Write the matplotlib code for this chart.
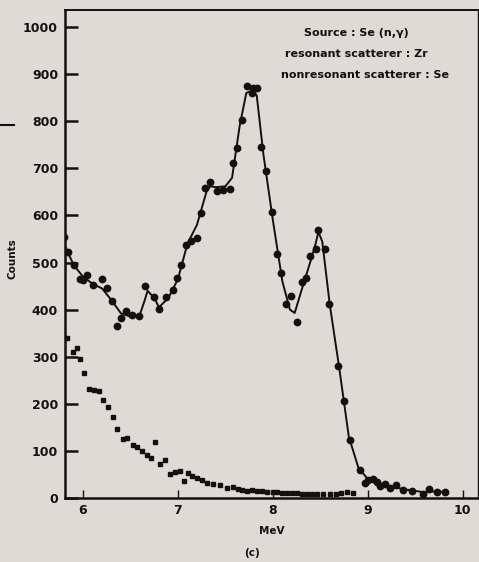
import numpy as np
import matplotlib
matplotlib.use("Agg")
import matplotlib.pyplot as plt
from matplotlib.lines import Line2D

# resonant scatterer Zr (dots)
res_e = [5.80, 5.84, 5.91, 5.97, 6.00, 6.04, 6.11, 6.20, 6.25, 6.31, 6.36, 6.40, 6.45, 6.52,
         6.59, 6.65, 6.75, 6.80, 6.87, 6.95, 6.99, 7.03, 7.09, 7.14, 7.20, 7.24, 7.29, 7.34,
         7.41, 7.47, 7.55, 7.58, 7.62, 7.67, 7.73, 7.78, 7.79, 7.83, 7.88, 7.93, 7.99, 8.04,
         8.09, 8.14, 8.19, 8.25, 8.31, 8.35, 8.39, 8.45, 8.48, 8.55, 8.59, 8.69, 8.75, 8.81,
         8.92, 8.97, 9.00, 9.05, 9.10, 9.13, 9.18, 9.23, 9.30, 9.37, 9.47, 9.58, 9.65, 9.73, 9.81]
res_counts = [554, 522, 495, 465, 463, 473, 452, 465, 446, 418, 365, 382, 397, 389,
              386, 450, 427, 401, 427, 442, 467, 495, 537, 545, 552, 605, 658, 671,
              652, 655, 656, 711, 743, 803, 875, 860, 870, 870, 745, 694, 607, 518,
              478, 412, 429, 374, 459, 467, 514, 529, 569, 529, 412, 280, 205, 123,
              59, 32, 38, 40, 33, 26, 30, 21, 28, 17, 15, 8, 19, 13, 13]

# smooth curve drawn through the dots
fit_e = [5.80, 5.90, 6.00, 6.10, 6.20, 6.30, 6.40, 6.50, 6.60, 6.65, 6.68, 6.75, 6.80, 6.90,
         7.00, 7.10, 7.20, 7.30, 7.34, 7.40, 7.50, 7.57, 7.65, 7.72, 7.78, 7.83, 7.90, 8.00,
         8.10, 8.18, 8.23, 8.30, 8.40, 8.45, 8.48, 8.52, 8.60, 8.70, 8.80, 8.90, 9.00, 9.10,
         9.20, 9.30, 9.40, 9.50, 9.60, 9.70, 9.80]
fit_counts = [540, 495, 470, 455, 445, 420, 392, 385, 390, 420, 440, 425, 405, 425,
              465, 540, 580, 650, 662, 660, 662, 680, 790, 860, 865, 855, 730, 590,
              460, 400, 393, 440, 505, 540, 565, 545, 410, 275, 130, 65, 40, 30,
              25, 22, 18, 15, 12, 14, 13]

# nonresonant scatterer Se (squares)
non_e = [5.83, 5.89, 5.94, 5.97, 6.01, 6.06, 6.12, 6.17, 6.21, 6.26, 6.32, 6.36, 6.42, 6.46,
         6.53, 6.57, 6.62, 6.67, 6.72, 6.76, 6.81, 6.86, 6.92, 6.97, 7.02, 7.06, 7.11, 7.15,
         7.20, 7.25, 7.31, 7.37, 7.44, 7.52, 7.58, 7.63, 7.68, 7.73, 7.78, 7.83, 7.89, 7.94,
         8.00, 8.04, 8.10, 8.15, 8.20, 8.25, 8.31, 8.36, 8.41, 8.46, 8.53, 8.60, 8.66, 8.72, 8.78, 8.84]
non_counts = [340, 310, 318, 295, 265, 231, 229, 227, 208, 193, 172, 146, 125, 127,
              113, 108, 100, 91, 85, 119, 72, 81, 51, 55, 57, 36, 53, 47,
              42, 38, 32, 30, 28, 21, 23, 19, 17, 15, 17, 15, 14, 13,
              13, 12, 11, 11, 10, 11, 9, 8, 9, 8, 8, 8, 9, 10, 12, 10]

xticks = [6, 7, 8, 9, 10]
xlabels = ["6", "7", "8", "9", "10"]
yticks = [0, 100, 200, 300, 400, 500, 600, 700, 800, 900, 1000]

bg = "#dcdbd6"
ink = "#141010"

fig = plt.figure(figsize=(4.79, 5.62), dpi=100, facecolor=bg)
ax = fig.add_axes([0.1357, 0.1139, 0.862, 0.868], facecolor=bg)

ax.plot(fit_e, fit_counts, color=ink, lw=1.4, zorder=2)
ax.plot(res_e, res_counts, "o", color=ink, ms=4.6, zorder=3)
ax.plot(non_e, non_counts, "s", color=ink, ms=3.3, zorder=3)

ax.set_xlim(5.81, 10.16)
ax.set_ylim(0, 1036)
ax.set_xticks(xticks)
ax.set_xticklabels(xlabels)
ax.set_yticks(yticks)
ax.tick_params(axis="y", direction="in", length=9, width=1.8, color=ink,
               labelsize=9, pad=5, labelcolor=ink)
ax.tick_params(axis="x", direction="in", length=6, width=1.0, color=ink,
               labelsize=9, pad=4, labelcolor=ink)
for lab in ax.get_xticklabels() + ax.get_yticklabels():
    lab.set_fontweight("bold")

for side in ["left", "bottom"]:
    ax.spines[side].set_linewidth(1.8)
    ax.spines[side].set_color(ink)
ax.spines["top"].set_linewidth(1.4)
ax.spines["top"].set_color(ink)
ax.spines["right"].set_linewidth(1.0)
ax.spines["right"].set_color(ink)

ax.set_xlabel("MeV", fontsize=7.5, fontweight="bold", color=ink)
ax.xaxis.set_label_coords(0.5, -0.058)
ax.set_ylabel("Counts", fontsize=7.5, fontweight="bold", color=ink)
ax.yaxis.set_label_coords(-0.115, 0.49)

# annotation block, top right
ax.text(0.705, 0.953, "Source : Se (n,γ)", transform=ax.transAxes, ha="center", va="center",
        fontsize=8.0, fontweight="bold", color=ink)
ax.text(0.705, 0.910, "resonant scatterer : Zr", transform=ax.transAxes, ha="center", va="center",
        fontsize=8.0, fontweight="bold", color=ink)
ax.text(0.727, 0.868, "nonresonant scatterer : Se", transform=ax.transAxes, ha="center", va="center",
        fontsize=8.0, fontweight="bold", color=ink)

fig.text(0.527, 0.016, "(c)", ha="center", va="center", fontsize=7.5, fontweight="bold", color=ink)
fig.add_artist(Line2D([0.002, 0.03], [0.777, 0.777], color=ink, lw=1.5))

fig.savefig("out.png", dpi=100, facecolor=bg)
